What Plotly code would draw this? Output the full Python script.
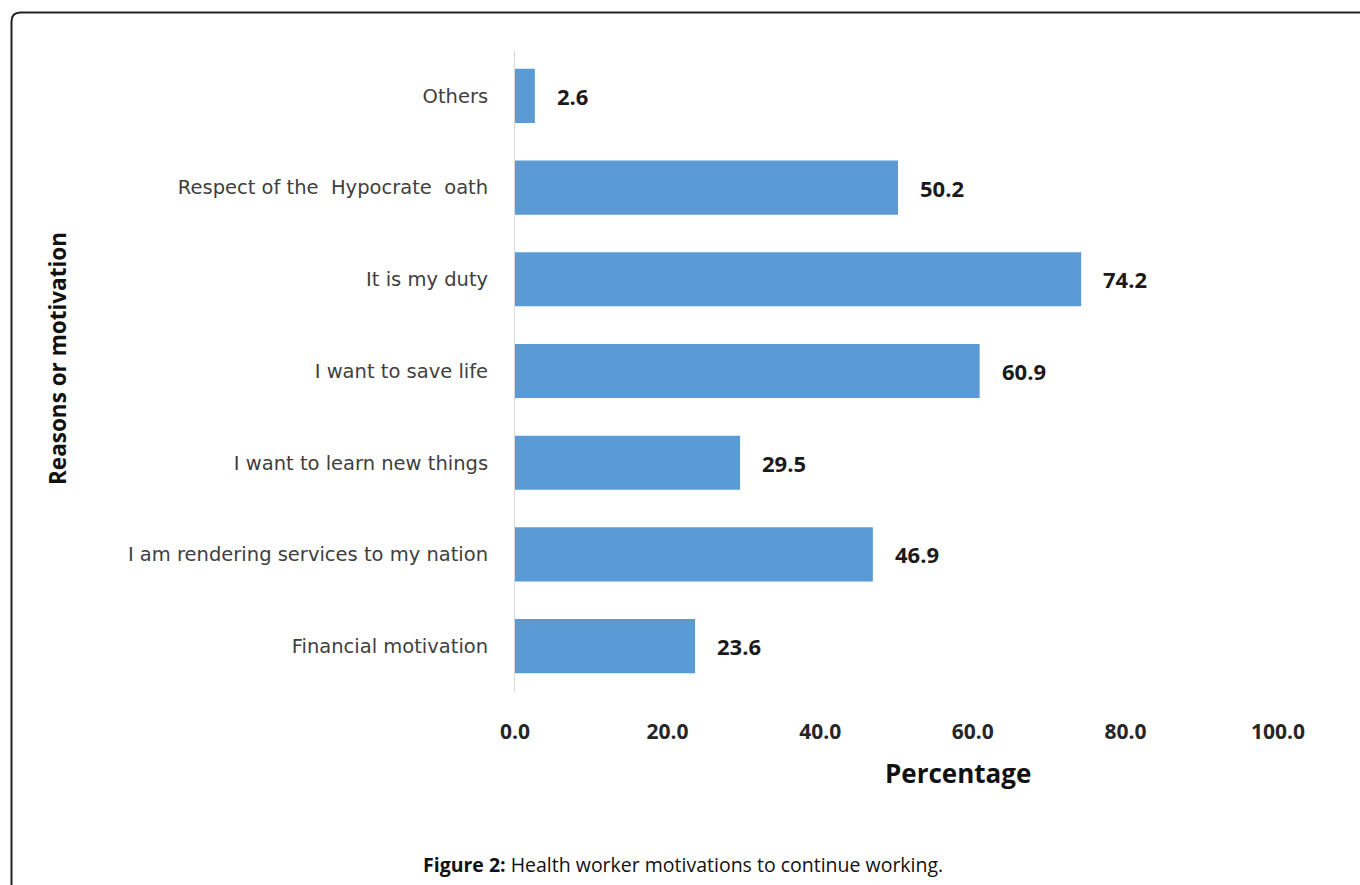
import plotly.graph_objects as go

categories = [
    "Others",
    "Respect of the\u00a0 Hypocrate\u00a0 oath",
    "It is my duty",
    "I want to save life",
    "I want to learn new things",
    "I am rendering services to my nation",
    "Financial motivation",
]
values = [2.6, 50.2, 74.2, 60.9, 29.5, 46.9, 23.6]
x_ticks = [0, 20, 40, 60, 80, 100]
x_tick_labels = ["0.0", "20.0", "40.0", "60.0", "80.0", "100.0"]

W, H = 1360, 885

def px(x):
    return x / W

def py(y):
    return 1 - y / H

fig = go.Figure()
fig.add_trace(go.Bar(
    x=values,
    y=categories,
    orientation="h",
    marker=dict(color="#5b9bd5", line=dict(width=0)),
    hoverinfo="skip",
))

for v, c in zip(values, categories):
    fig.add_annotation(
        x=v, y=c, xref="x", yref="y",
        text=f"{v:.1f}", showarrow=False,
        xanchor="left", yanchor="middle", xshift=20,
        font=dict(family="Open Sans", size=22, color="#1a1a1a", weight="bold"),
    )

fig.update_layout(
    width=W, height=H,
    margin=dict(l=0, r=0, t=0, b=0, autoexpand=False),
    paper_bgcolor="white", plot_bgcolor="white",
    showlegend=False,
    bargap=0.41,
    xaxis=dict(
        domain=[px(515), px(1278)],
        range=[0, 100],
        automargin=False,
        tickvals=x_ticks, ticktext=x_tick_labels,
        showgrid=False, zeroline=False, showline=False,
        ticks="", ticklabelstandoff=25,
        tickfont=dict(family="Open Sans", size=21, color="#262626", weight="bold"),
    ),
    yaxis=dict(
        domain=[py(692), py(50)],
        autorange="reversed",
        automargin=False,
        showgrid=False, zeroline=False,
        showline=True, linecolor="#d9d9d9", linewidth=1,
        ticks="", ticklabelstandoff=22,
        tickfont=dict(family="DejaVu Sans", size=19.5, color="#404040"),
    ),
)

fig.add_annotation(
    x=px(958), y=py(773), xref="paper", yref="paper",
    text="<b>Percentage</b>", showarrow=False,
    xanchor="center", yanchor="middle",
    font=dict(family="Open Sans", size=26, color="#111111"),
)
fig.add_annotation(
    x=px(57), y=py(359), xref="paper", yref="paper",
    text="<b>Reasons or motivation</b>", showarrow=False, textangle=-90,
    xanchor="center", yanchor="middle",
    font=dict(family="Open Sans", size=22.5, color="#111111"),
)
fig.add_annotation(
    x=px(683), y=py(864), xref="paper", yref="paper",
    text="<b>Figure 2:</b> Health worker motivations to continue working.",
    showarrow=False, xanchor="center", yanchor="middle",
    font=dict(family="Open Sans", size=19.5, color="#111111"),
)

# rounded frame around the figure
x0, y0, r = 11.5, 12.5, 9
path = (f"M {px(x0)},{py(H + 5)} L {px(x0)},{py(y0 + r)} "
        f"Q {px(x0)},{py(y0)} {px(x0 + r)},{py(y0)} L {px(W + 5)},{py(y0)}")
fig.add_shape(type="path", path=path, xref="paper", yref="paper",
              line=dict(color="#222222", width=2))

fig.write_html("out.html")
